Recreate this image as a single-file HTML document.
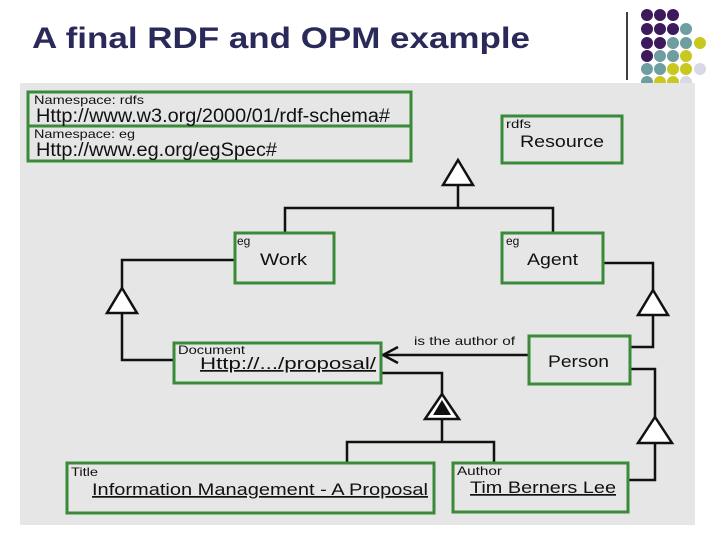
<!DOCTYPE html><html><head><style>body{margin:0;width:720px;height:540px;background:#fff;overflow:hidden;font-family:"Liberation Sans",sans-serif}</style></head><body>
<svg width="720" height="540" xmlns="http://www.w3.org/2000/svg" font-family="Liberation Sans, sans-serif">
<rect x="20" y="83" width="675" height="442" fill="#e6e6e6"/>
<text x="32" y="48" font-size="30" font-weight="bold" fill="#2a2a5a" textLength="498" lengthAdjust="spacingAndGlyphs">A final RDF and OPM example</text>
<line x1="627" y1="12" x2="627" y2="80" stroke="#000" stroke-width="1.5"/>
<g>
<circle cx="647" cy="15" r="6" fill="#3d1a5c"/><circle cx="660" cy="15" r="6" fill="#3d1a5c"/><circle cx="673" cy="15" r="6" fill="#3d1a5c"/>
<circle cx="647" cy="29" r="6" fill="#3d1a5c"/><circle cx="660" cy="29" r="6" fill="#3d1a5c"/><circle cx="673" cy="29" r="6" fill="#3d1a5c"/><circle cx="686" cy="29" r="6" fill="#6e9ea0"/>
<circle cx="647" cy="43" r="6" fill="#3d1a5c"/><circle cx="660" cy="43" r="6" fill="#3d1a5c"/><circle cx="673" cy="43" r="6" fill="#6e9ea0"/><circle cx="686" cy="43" r="6" fill="#6e9ea0"/><circle cx="700" cy="43" r="6" fill="#c8c820"/>
<circle cx="647" cy="56" r="6" fill="#3d1a5c"/><circle cx="660" cy="56" r="6" fill="#6e9ea0"/><circle cx="673" cy="56" r="6" fill="#6e9ea0"/><circle cx="686" cy="56" r="6" fill="#c8c820"/>
<circle cx="647" cy="69" r="6" fill="#6e9ea0"/><circle cx="660" cy="69" r="6" fill="#6e9ea0"/><circle cx="673" cy="69" r="6" fill="#c8c820"/><circle cx="686" cy="69" r="6" fill="#c8c820"/><circle cx="700" cy="69" r="6" fill="#d8d8e8"/>
<circle cx="647" cy="82" r="6" fill="#6e9ea0"/><circle cx="660" cy="82" r="6" fill="#c8c820"/><circle cx="673" cy="82" r="6" fill="#c8c820"/><circle cx="686" cy="82" r="6" fill="#d8d8e8"/>
</g>
<rect x="620" y="83" width="75" height="10" fill="#e6e6e6"/>
<g fill="none" stroke="#111" stroke-width="2.5">
<polyline points="458,185 458,208"/><polyline points="285,233 285,208 553,208 553,233"/>
<polyline points="235,260 122,260 122,288"/><polyline points="122,313 122,360 174,360"/>
<polyline points="603,263 653,263 653,290"/><polyline points="653,315 653,347 630,347"/>
<polyline points="630,369 655,369 655,417"/><polyline points="655,443 655,480 628,480"/>
<polyline points="529,355 383,355"/><polyline points="398,347 383,355 398,363"/>
<polyline points="381,373 442,373 442,394"/><polyline points="442,419 442,442"/>
<polyline points="347,463 347,442 494,442 494,463"/>
</g>
<g fill="#fff" stroke="#111" stroke-width="2.5">
<polygon points="458,160 443,185 473,185"/><polygon points="122,288 107,313 137,313"/>
<polygon points="653,290 638,315 668,315"/><polygon points="655,417 638,443 672,443"/>
<polygon points="442,394 425,419 459,419"/>
</g>
<polygon points="442,400 433,415 451,415" fill="#111"/>
<g fill="#fff" fill-opacity="0" stroke="#3a8a3a" stroke-width="3">
<rect x="28" y="92" width="383" height="34"/><rect x="28" y="126" width="383" height="35"/>
<rect x="502" y="116" width="120" height="47"/><rect x="235" y="233" width="99" height="50"/>
<rect x="502" y="233" width="101" height="50"/><rect x="174" y="343" width="207" height="40"/>
<rect x="529" y="336" width="101" height="48"/><rect x="67" y="463" width="367" height="50"/>
<rect x="453" y="463" width="175" height="49"/>
</g>
<g fill="#111" lengthAdjust="spacingAndGlyphs">
<text x="34" y="104" font-size="12" textLength="110" lengthAdjust="spacingAndGlyphs">Namespace: rdfs</text>
<text x="36" y="122" font-size="19" textLength="354" lengthAdjust="spacingAndGlyphs">Http://www.w3.org/2000/01/rdf-schema#</text>
<text x="34" y="138" font-size="12" textLength="101" lengthAdjust="spacingAndGlyphs">Namespace: eg</text>
<text x="36" y="156" font-size="19" textLength="241" lengthAdjust="spacingAndGlyphs">Http://www.eg.org/egSpec#</text>
<text x="506" y="128" font-size="12" textLength="25" lengthAdjust="spacingAndGlyphs">rdfs</text>
<text x="520" y="147" font-size="17" textLength="84" lengthAdjust="spacingAndGlyphs">Resource</text>
<text x="237" y="245" font-size="12">eg</text><text x="260" y="265" font-size="17" textLength="47" lengthAdjust="spacingAndGlyphs">Work</text>
<text x="506" y="245" font-size="12">eg</text><text x="527" y="265" font-size="17" textLength="51" lengthAdjust="spacingAndGlyphs">Agent</text>
<text x="178" y="354" font-size="12" textLength="67" lengthAdjust="spacingAndGlyphs">Document</text>
<text x="200" y="369" font-size="17" textLength="176" lengthAdjust="spacingAndGlyphs" text-decoration="underline">Http://.../proposal/</text>
<text x="414" y="345" font-size="12" textLength="101" lengthAdjust="spacingAndGlyphs">is the author of</text>
<text x="548" y="367" font-size="17" textLength="61" lengthAdjust="spacingAndGlyphs">Person</text>
<text x="71" y="476" font-size="12" textLength="27" lengthAdjust="spacingAndGlyphs">Title</text>
<text x="92" y="495" font-size="17" textLength="336" lengthAdjust="spacingAndGlyphs" text-decoration="underline">Information Management - A Proposal</text>
<text x="457" y="475" font-size="12" textLength="45" lengthAdjust="spacingAndGlyphs">Author</text>
<text x="470" y="493" font-size="17" textLength="146" lengthAdjust="spacingAndGlyphs" text-decoration="underline">Tim Berners Lee</text>
</g>
</svg></body></html>
